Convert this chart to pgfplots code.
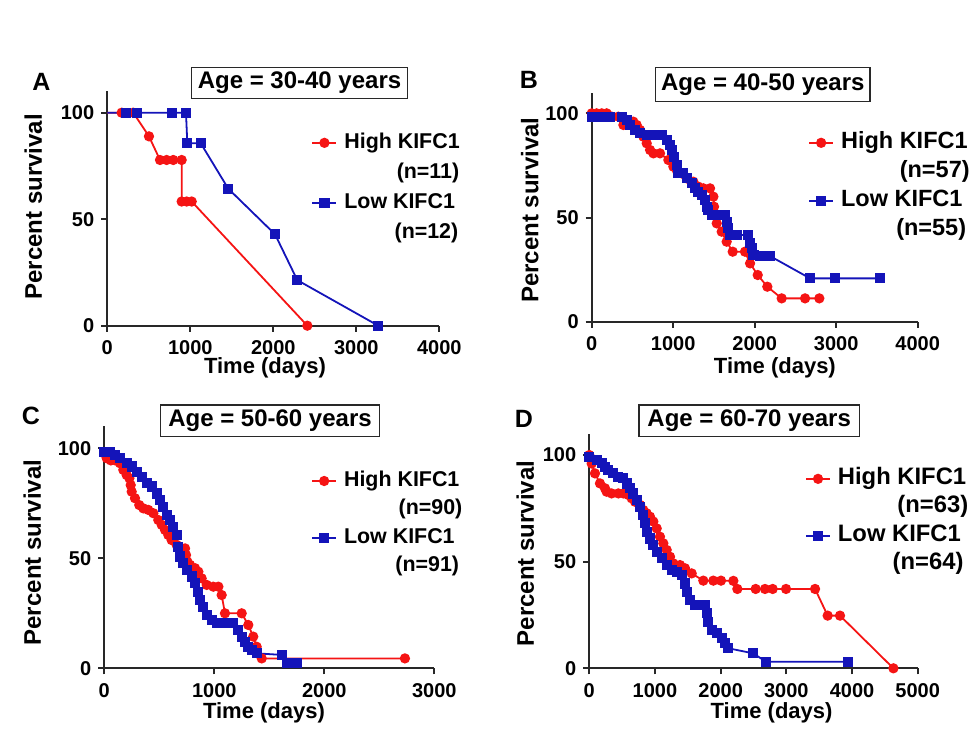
\documentclass[border=0pt]{standalone}
\usepackage{pgfplots}
\pgfplotsset{compat=1.18}
\usepackage{fontspec}
\setmainfont{Liberation Sans}
\definecolor{kred}{RGB}{245,20,20}
\definecolor{kblue}{RGB}{20,20,185}
\definecolor{axgray}{RGB}{40,40,40}
\pgfplotsset{
  km/.style={
    scale only axis, axis lines*=left,
    axis line style={line width=1pt, color=axgray},
    tick align=outside, major tick length=3pt,
    tick style={line width=1pt, color=axgray},
    ymin=0, ymax=110, ytick={0,50,100}, xmin=0,
    clip=false,
    /pgf/number format/assume math mode=true,
    /pgf/number format/1000 sep={},
    ticklabel style={font=\bfseries\fontsize{10}{12}\selectfont},
    xticklabel style={yshift=-1pt},
    xlabel={Time (days)}, ylabel={Percent survival},
    xlabel style={font=\bfseries\fontsize{11}{13}\selectfont, anchor=center},
    ylabel style={font=\bfseries\fontsize{12}{14}\selectfont, anchor=center},
    legend image code/.code={\draw[mark repeat=2,mark phase=2] plot coordinates {(0pt,0pt)(6pt,0pt)(12pt,0pt)};},
    legend cell align=left,
    legend style={draw=none, fill=none, anchor=north west, inner sep=0pt,
      nodes={inner xsep=1pt, inner ysep=0pt, text height=8pt, text depth=2.5pt},
      row sep=4.5pt, column sep=2.5pt},
  },
  hi/.style={color=kred, line width=0.9pt, mark=*, mark size=2.1pt, mark options={solid, fill=kred}},
  lo/.style={color=kblue, line width=0.9pt, mark=square*, mark size=2.1pt, mark options={solid, fill=kblue}},
}
\begin{document}
\begin{tikzpicture}
\useasboundingbox (0pt,0pt) rectangle (486.5pt,367.5pt);
% ---------------- A
\begin{axis}[km, at={(53.65pt,204.65pt)}, anchor=south west, width=166pt, height=117.15pt,
  xmax=4000, xtick={0,1000,2000,3000,4000},
  xlabel style={at={(axis description cs:0.475,0)}, yshift=-21pt},
  ylabel style={at={(axis description cs:0,0.508)}, yshift=37pt},
  legend style={at={(0.614,0.827)}, font=\bfseries\fontsize{10.7}{12}\selectfont, row sep=4.5pt}]
\addplot[hi, mark phase=2] coordinates {(0,100)(173,100)(313,100)(502,88.9)(635,77.8)(715,77.8)(795,77.8)(896,77.8)(896,58.3)(956,58.3)(1017,58.3)(2410,0)};
\addlegendentry{High KIFC1}
\addlegendimage{empty legend}\addlegendentry{\hspace*{2.45em}(n=11)}
\addplot[lo, mark phase=2] coordinates {(0,100)(225,100)(361,100)(776,100)(948,100)(964,85.7)(1125,85.7)(1458,64.3)(2021,42.9)(2289,21.4)(3265,0)};
\addlegendentry{Low KIFC1}
\addlegendimage{empty legend}\addlegendentry{\hspace*{2.35em}(n=12)}
\end{axis}
% ---------------- B
\begin{axis}[km, at={(295.85pt,206.65pt)}, anchor=south west, width=163pt, height=114.6pt,
  xmax=4000, xtick={0,1000,2000,3000,4000},
  xlabel style={at={(axis description cs:0.562,0)}, yshift=-23pt},
  ylabel style={at={(axis description cs:0,0.487)}, yshift=31pt},
  legend style={at={(0.663,0.828)}, font=\bfseries\fontsize{11.75}{13}\selectfont, row sep=4pt}]
\addplot[hi] coordinates {(0,100)(61,100)(123,100)(184,100)(245,98.4)(327,98.4)(389,96.8)(389,94.4)(511,96)(552,94.4)(593,92)(634,88.8)(675,85.6)(716,82.4)(757,80.8)(838,80.8)(941,77.6)(1002,74.4)(1043,72.8)(1104,71.2)(1166,68.8)(1247,67.2)(1309,64.8)(1370,64)(1452,64)(1493,60)(1501,55.2)(1513,51.2)(1534,47.2)(1595,43.2)(1656,38.4)(1730,33.6)(1881,33.6)(1943,28)(2037,22.4)(2155,16.8)(2331,11.2)(2618,11.2)(2793,11.2)};
\addlegendentry{High KIFC1}
\addlegendimage{empty legend}\addlegendentry{\hspace*{2.5em}(n=57)}
\addplot[lo] coordinates {(0,98.4)(102,98.4)(225,98.4)(368,98.4)(429,96.8)(470,94.4)(532,92)(593,90.4)(675,89.6)(777,89.6)(859,89.6)(920,87.2)(961,84.8)(982,82.4)(1010,79.2)(1043,75.2)(1063,71.2)(1125,71.2)(1166,68.8)(1227,66.4)(1268,64)(1309,62.4)(1350,60.8)(1391,58.4)(1411,55.2)(1431,53.6)(1472,51.2)(1575,51.2)(1636,51.2)(1656,48)(1677,44.8)(1697,41.6)(1779,41.6)(1922,41.6)(1943,37.6)(1963,35.2)(1984,32)(2065,31.5)(2188,31.5)(2679,20.8)(2986,20.8)(3538,20.8)};
\addlegendentry{Low KIFC1}
\addlegendimage{empty legend}\addlegendentry{\hspace*{2.35em}(n=55)}
\end{axis}
% ---------------- C
\begin{axis}[km, at={(52.15pt,33.35pt)}, anchor=south west, width=165pt, height=121pt,
  xmax=3000, xtick={0,1000,2000,3000},
  xlabel style={at={(axis description cs:0.484,0)}, yshift=-22.5pt},
  ylabel style={at={(axis description cs:0,0.478)}, yshift=36pt},
  legend style={at={(0.626,0.819)}, font=\bfseries\fontsize{10.7}{12}\selectfont, row sep=3.7pt}]
\addplot[hi] coordinates {(0,97.7)(22,95.5)(60,94.5)(100,94.5)(143,93.2)(173,90.2)(203,87.9)(228,86.4)(240,83.3)(249,80.3)(279,77.3)(318,74.2)(355,72.7)(400,72)(446,70.5)(491,67.4)(522,65.2)(552,62.9)(582,60.6)(612,58.3)(658,56.1)(703,54.5)(734,54.5)(743,51.5)(755,48.5)(779,47)(825,45.5)(855,43.9)(885,40.9)(931,37.9)(991,37.1)(1037,37.1)(1067,33.3)(1097,25)(1249,25)(1309,19.7)(1354,14.4)(1385,9.8)(1431,4.5)(2733,4.5)};
\addlegendentry{High KIFC1}
\addlegendimage{empty legend}\addlegendentry{\hspace*{2.55em}(n=90)}
\addplot[lo] coordinates {(0,98.5)(52,98.5)(97,97)(143,95.5)(203,93.2)(249,91.7)(294,89.4)(340,87.1)(385,84.1)(431,82.6)(476,79.5)(506,76.5)(537,73.5)(567,69.7)(597,67.4)(628,64.4)(658,60.6)(673,55.3)(688,50.8)(719,47.7)(749,44.7)(794,41.7)(825,38.6)(855,34.8)(870,31.1)(900,28)(931,24.2)(976,22)(1022,20.5)(1067,20.5)(1128,20.5)(1173,20.5)(1218,17.4)(1249,14.4)(1279,12.1)(1309,9.8)(1340,8.3)(1385,6.8)(1612,6.1)(1658,2.3)(1749,2.3)};
\addlegendentry{Low KIFC1}
\addlegendimage{empty legend}\addlegendentry{\hspace*{2.4em}(n=91)}
\end{axis}
% ---------------- D
\begin{axis}[km, at={(294.65pt,33.35pt)}, anchor=south west, width=164.2pt, height=117.3pt,
  xmax=5000, xtick={0,1000,2000,3000,4000,5000},
  xlabel style={at={(axis description cs:0.555,0)}, yshift=-22.5pt},
  ylabel style={at={(axis description cs:0,0.49)}, yshift=32pt},
  legend style={at={(0.656,0.854)}, font=\bfseries\fontsize{11.9}{13}\selectfont, row sep=3.7pt}]
\addplot[hi] coordinates {(0,100)(36,96)(86,91.4)(162,86.7)(239,84.4)(264,82.8)(340,82)(442,82)(518,82)(594,81.3)(645,79.7)(696,78.1)(772,76.6)(823,74.2)(873,72.7)(924,71.1)(975,68.8)(1026,65.6)(1076,61.7)(1127,58.6)(1178,55.5)(1229,52.3)(1279,49.2)(1381,48.4)(1457,46.9)(1559,44.5)(1736,41.1)(1888,41.1)(2005,41.1)(2193,41)(2254,37.2)(2533,37.2)(2675,37.2)(2792,37.2)(2995,37.2)(3437,37.2)(3629,24.7)(3817,24.7)(4630,0)};
\addlegendentry{High KIFC1}
\addlegendimage{empty legend}\addlegendentry{\hspace*{2.5em}(n=63)}
\addplot[lo] coordinates {(0,99.2)(112,97.7)(188,96.1)(239,94.5)(290,93)(366,91.4)(442,89.8)(518,89.1)(569,86.7)(620,84.4)(670,82)(721,78.9)(772,75.8)(823,71.9)(848,68)(873,64.1)(924,60.9)(975,57.8)(1026,54.7)(1102,51.6)(1178,48.4)(1254,46.1)(1330,45.3)(1406,43.8)(1457,39.8)(1482,35.9)(1533,32)(1609,29.7)(1685,29.7)(1762,29.7)(1787,25.8)(1812,21.9)(1863,18)(1939,16.4)(2015,14.1)(2066,11.7)(2117,9.4)(2497,7)(2690,3.1)(3944,3.1)};
\addlegendentry{Low KIFC1}
\addlegendimage{empty legend}\addlegendentry{\hspace*{2.3em}(n=64)}
\end{axis}
% ---------------- titles and panel letters
\tikzset{ttl/.style={draw=axgray, line width=0.7pt, minimum height=15.5pt, inner sep=0pt, font=\bfseries\fontsize{12}{14}\selectfont},
         plet/.style={font=\bfseries\fontsize{12.5}{14}\selectfont, inner sep=0pt}}
\node[ttl, minimum width=107.8pt] at (149.75pt,326.1pt) {Age = 30-40 years};
\node[ttl, minimum width=107.2pt, minimum height=17pt] at (381.4pt,325.25pt) {Age = 40-50 years};
\node[ttl, minimum width=109.3pt, minimum height=15.8pt] at (135pt,157.1pt) {Age = 50-60 years};
\node[ttl, minimum width=110.2pt, minimum height=15.8pt] at (374.6pt,157.1pt) {Age = 60-70 years};
\node[plet] at (20.75pt,326.5pt) {A};
\node[plet] at (264.5pt,327.5pt) {B};
\node[plet] at (15.5pt,159.5pt) {C};
\node[plet] at (262pt,158pt) {D};
\end{tikzpicture}
\end{document}
